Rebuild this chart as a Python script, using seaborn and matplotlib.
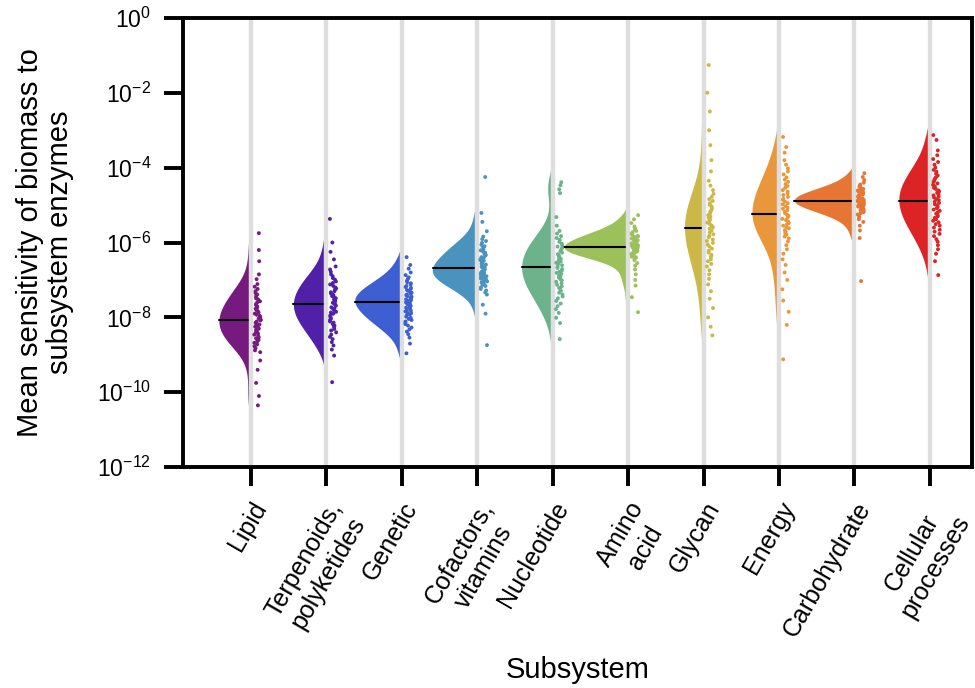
import numpy as np
import pandas as pd
import matplotlib
matplotlib.use("Agg")
import matplotlib.pyplot as plt
import matplotlib.ticker as mticker
import matplotlib.transforms as mtransforms
from matplotlib.patches import Rectangle
import seaborn as sns

# Subsystem categories (axis order) and their colours
subsystems = ["Lipid", "Terpenoids,\npolyketides", "Genetic", "Cofactors,\nvitamins",
              "Nucleotide", "Amino\nacid", "Glycan", "Energy", "Carbohydrate",
              "Cellular\nprocesses"]
colors = ["#761a80", "#5020a8", "#3e5fd2", "#4a93bf", "#6cb38b",
          "#9cc05a", "#cbb846", "#e8983a", "#e77634", "#dc2426"]

# log10 of mean biomass sensitivity for the enzymes of each subsystem
lipid = [-10.35, -10.10, -9.75, -9.40, -9.15, -8.93, -8.88, -8.82, -8.77, -8.72,
         -8.68, -8.64, -8.60, -8.56, -8.53, -8.49, -8.46, -8.43, -8.40, -8.36,
         -8.34, -8.30, -8.28, -8.25, -8.22, -8.19, -8.17, -8.14, -8.11, -8.08,
         -8.06, -8.03, -7.99, -7.96, -7.93, -7.90, -7.87, -7.84, -7.81, -7.77,
         -7.75, -7.71, -7.67, -7.64, -7.60, -7.57, -7.52, -7.49, -7.44, -7.39,
         -7.35, -7.30, -7.24, -7.18, -7.11, -6.98, -6.85, -6.50, -6.20, -5.75]
terpenoids = [-9.73, -9.02, -8.86, -8.75, -8.66, -8.58, -8.52, -8.46, -8.40, -8.35,
              -8.31, -8.26, -8.22, -8.18, -8.14, -8.11, -8.07, -8.04, -8.00, -7.97,
              -7.94, -7.90, -7.87, -7.85, -7.81, -7.78, -7.76, -7.73, -7.69, -7.66,
              -7.64, -7.61, -7.57, -7.55, -7.52, -7.49, -7.45, -7.43, -7.40, -7.36,
              -7.33, -7.30, -7.26, -7.23, -7.20, -7.16, -7.12, -7.08, -7.04, -6.99,
              -6.95, -6.90, -6.85, -6.78, -6.72, -6.64, -6.45, -6.25, -6.00, -5.37]
genetic = [-8.96, -8.70, -8.54, -8.45, -8.38, -8.32, -8.27, -8.22, -8.18, -8.14,
           -8.11, -8.07, -8.04, -8.01, -7.98, -7.95, -7.92, -7.89, -7.87, -7.84,
           -7.82, -7.79, -7.77, -7.74, -7.72, -7.69, -7.67, -7.65, -7.62, -7.60,
           -7.58, -7.56, -7.54, -7.52, -7.50, -7.48, -7.45, -7.43, -7.41, -7.39,
           -7.37, -7.34, -7.32, -7.29, -7.27, -7.24, -7.21, -7.19, -7.16, -7.12,
           -7.09, -7.06, -7.02, -6.97, -6.93, -6.87, -6.80, -6.70, -6.60, -6.39]
cofactors = [-8.74, -7.90, -7.66, -7.39, -7.33, -7.28, -7.24, -7.20, -7.16, -7.13,
             -7.10, -7.07, -7.04, -7.02, -6.99, -6.97, -6.95, -6.93, -6.90, -6.88,
             -6.86, -6.84, -6.82, -6.81, -6.78, -6.77, -6.75, -6.73, -6.71, -6.69,
             -6.67, -6.65, -6.62, -6.59, -6.57, -6.55, -6.52, -6.49, -6.47, -6.44,
             -6.42, -6.39, -6.36, -6.33, -6.30, -6.27, -6.24, -6.21, -6.18, -6.13,
             -6.10, -6.06, -6.01, -5.96, -5.91, -5.84, -5.70, -5.45, -5.21, -4.25]
nucleotide = [-8.58, -8.15, -8.01, -7.88, -7.78, -7.70, -7.63, -7.56, -7.49, -7.44,
              -7.39, -7.34, -7.29, -7.25, -7.21, -7.17, -7.13, -7.09, -7.05, -7.01,
              -6.98, -6.94, -6.91, -6.88, -6.84, -6.81, -6.78, -6.75, -6.71, -6.68,
              -6.64, -6.61, -6.57, -6.54, -6.51, -6.48, -6.44, -6.41, -6.38, -6.34,
              -6.31, -6.27, -6.23, -6.19, -6.15, -6.11, -6.07, -6.03, -5.98, -5.93,
              -5.88, -5.83, -5.76, -5.69, -5.55, -5.32, -4.68, -4.58, -4.47, -4.39]
amino_acid = [-7.86, -7.46, -7.15, -7.00, -6.85, -6.72, -6.62, -6.55, -6.47, -6.42,
              -6.40, -6.38, -6.36, -6.35, -6.33, -6.31, -6.30, -6.28, -6.27, -6.25,
              -6.24, -6.23, -6.22, -6.20, -6.19, -6.18, -6.16, -6.15, -6.14, -6.13,
              -6.11, -6.10, -6.08, -6.07, -6.05, -6.04, -6.02, -6.01, -5.99, -5.98,
              -5.96, -5.94, -5.93, -5.91, -5.89, -5.87, -5.85, -5.84, -5.82, -5.79,
              -5.77, -5.75, -5.72, -5.69, -5.65, -5.62, -5.57, -5.48, -5.38, -5.27]
glycan = [-8.48, -8.25, -8.00, -7.75, -7.50, -7.30, -7.12, -6.97, -6.85, -6.74,
          -6.64, -6.57, -6.50, -6.45, -6.38, -6.33, -6.27, -6.22, -6.16, -6.11,
          -6.06, -6.01, -5.96, -5.92, -5.86, -5.82, -5.78, -5.73, -5.68, -5.63,
          -5.59, -5.55, -5.51, -5.47, -5.43, -5.39, -5.34, -5.31, -5.27, -5.22,
          -5.18, -5.14, -5.09, -5.04, -4.99, -4.95, -4.89, -4.84, -4.78, -4.70,
          -4.60, -4.48, -4.35, -4.10, -3.80, -3.40, -3.00, -2.50, -2.00, -1.26]
energy = [-9.12, -8.20, -7.85, -7.55, -7.25, -7.00, -6.80, -6.60, -6.45, -6.30,
          -6.18, -6.07, -5.97, -5.89, -5.84, -5.79, -5.75, -5.71, -5.67, -5.62,
          -5.59, -5.55, -5.51, -5.48, -5.44, -5.40, -5.37, -5.33, -5.29, -5.26,
          -5.22, -5.18, -5.14, -5.10, -5.07, -5.03, -4.98, -4.95, -4.91, -4.86,
          -4.83, -4.78, -4.73, -4.69, -4.64, -4.60, -4.54, -4.49, -4.44, -4.38,
          -4.32, -4.26, -4.18, -4.10, -4.02, -3.92, -3.80, -3.60, -3.45, -3.18]
carbohydrate = [-7.03, -5.88, -5.68, -5.55, -5.45, -5.38, -5.32, -5.28, -5.25, -5.22,
                -5.19, -5.17, -5.15, -5.13, -5.11, -5.09, -5.07, -5.06, -5.04, -5.03,
                -5.01, -5.00, -4.98, -4.97, -4.95, -4.94, -4.93, -4.92, -4.91, -4.90,
                -4.88, -4.87, -4.86, -4.85, -4.83, -4.82, -4.81, -4.79, -4.78, -4.77,
                -4.75, -4.74, -4.72, -4.71, -4.69, -4.68, -4.66, -4.65, -4.63, -4.61,
                -4.59, -4.57, -4.54, -4.52, -4.49, -4.45, -4.40, -4.33, -4.25, -4.15]
cellular = [-6.87, -6.50, -6.30, -6.18, -6.07, -5.98, -5.91, -5.83, -5.77, -5.71,
            -5.66, -5.60, -5.55, -5.51, -5.46, -5.42, -5.38, -5.34, -5.30, -5.26,
            -5.23, -5.19, -5.15, -5.12, -5.08, -5.05, -5.01, -4.98, -4.94, -4.91,
            -4.87, -4.84, -4.80, -4.77, -4.74, -4.71, -4.67, -4.64, -4.61, -4.57,
            -4.54, -4.50, -4.46, -4.42, -4.38, -4.34, -4.30, -4.26, -4.21, -4.16,
            -4.11, -4.06, -4.00, -3.92, -3.85, -3.77, -3.67, -3.54, -3.26, -3.13]

groups = [lipid, terpenoids, genetic, cofactors, nucleotide,
          amino_acid, glycan, energy, carbohydrate, cellular]

# maximum half-violin width of each subsystem, in category units
half_widths = [0.424, 0.437, 0.623, 0.596, 0.411, 0.848, 0.252, 0.358, 0.795, 0.411]

df = pd.concat(
    [pd.DataFrame({"subsystem": name, "sensitivity": 10.0 ** np.asarray(vals)})
     for name, vals in zip(subsystems, groups)],
    ignore_index=True,
)

sns.set_style("ticks")
plt.rcParams["font.family"] = ["Liberation Sans", "DejaVu Sans"]
plt.rcParams["mathtext.fontset"] = "custom"
plt.rcParams["mathtext.rm"] = "Liberation Sans"
plt.rcParams["mathtext.it"] = "Liberation Sans:italic"
plt.rcParams["mathtext.bf"] = "Liberation Sans:bold"
for key in ["text.color", "axes.labelcolor", "xtick.color", "ytick.color", "axes.edgecolor"]:
    plt.rcParams[key] = "black"

fig, ax = plt.subplots(figsize=(9.75, 6.88), dpi=100)
fig.subplots_adjust(left=0.1877, right=0.997, top=0.974, bottom=0.321)

# x in data units, y spanning the whole axes height
half_trans = mtransforms.blended_transform_factory(ax.transData, ax.transAxes)

# violins one subsystem at a time; the right half is clipped away and only
# the median line of the quartile markers is kept
for i, (name, col, hw) in enumerate(zip(subsystems, colors, half_widths)):
    sub = df[df["subsystem"] == name]
    n_lines = len(ax.lines)
    n_colls = len(ax.collections)
    sns.violinplot(data=sub, x="subsystem", y="sensitivity", order=subsystems,
                   color=col, saturation=1, inner="quart", density_norm="width",
                   width=2 * hw, cut=2, bw_adjust=0.9, linewidth=0,
                   log_scale=True, ax=ax)
    left_half = Rectangle((i - 1.5, -0.1), 1.5, 1.2, transform=half_trans,
                          facecolor="none", edgecolor="none")
    for coll in ax.collections[n_colls:]:
        coll.set_clip_path(left_half)
    for k, ln in enumerate(list(ax.lines[n_lines:])):
        if k == 1:
            ln.set_linestyle("-")
            ln.set_color("black")
            ln.set_linewidth(1.5)
            ln.set_zorder(2)
            ln.set_clip_path(left_half)
        else:
            ln.remove()

# light guide line at every subsystem position
for i in range(len(subsystems)):
    ax.axvline(i, color="#dedede", lw=3.2, zorder=2.5)

# individual enzymes, placed just right of the guide line
np.random.seed(3)
n_coll = len(ax.collections)
sns.stripplot(data=df, x="subsystem", y="sensitivity", hue="subsystem",
              order=subsystems, hue_order=subsystems, palette=colors,
              jitter=0.045, size=2.8, linewidth=0, legend=False, ax=ax)
for coll in ax.collections[n_coll:]:
    off = np.asarray(coll.get_offsets()).copy()
    off[:, 0] += 0.088
    coll.set_offsets(off)
    coll.set_zorder(3)

ax.set_xlim(-0.9, 9.56)
ax.set_ylim(1e-12, 1)
ax.yaxis.set_major_locator(mticker.FixedLocator([10.0 ** k for k in range(-12, 1, 2)]))
ax.yaxis.set_minor_locator(mticker.NullLocator())
ax.yaxis.set_major_formatter(
    mticker.FuncFormatter(lambda v, p: r"$\mathregular{10^{%d}}$" % round(np.log10(v))))

ax.set_xticks(range(len(subsystems)))
ax.set_xticklabels(subsystems, fontsize=18)
for lab in ax.get_xticklabels():
    lab.set_rotation(60)
    lab.set_rotation_mode("anchor")
    lab.set_horizontalalignment("right")
    lab.set_verticalalignment("top")
    lab.set_multialignment("center")
ax.tick_params(axis="both", direction="out", length=14, width=2.8)
ax.tick_params(axis="y", labelsize=16.5, pad=9)
ax.tick_params(axis="x", pad=8)
for side in ["left", "right", "top", "bottom"]:
    ax.spines[side].set_visible(True)
    ax.spines[side].set_linewidth(2.8)

ax.set_xlabel("Subsystem", fontsize=21)
ax.xaxis.set_label_coords(0.5, -0.42)
ax.set_ylabel("Mean sensitivity of biomass to\nsubsystem enzymes", fontsize=21,
              linespacing=1.1)
ax.yaxis.set_label_coords(-0.138, 0.5)

fig.savefig("out.png", dpi=100)
